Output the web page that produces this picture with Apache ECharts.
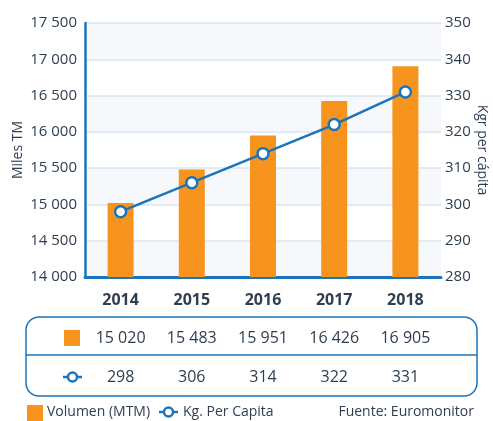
<!DOCTYPE html>
<html>
<head>
<meta charset="utf-8">
<script src="https://cdn.jsdelivr.net/npm/echarts@6/dist/echarts.min.js"></script>
<style>
  html, body { margin: 0; padding: 0; background: #fff; }
  #chart { width: 493px; height: 421px; }
</style>
</head>
<body>
<div id="chart"></div>
<script>
const years = ["2014", "2015", "2016", "2017", "2018"];
const volumen = [15020, 15483, 15951, 16426, 16905];
const perCapita = [298, 306, 314, 322, 331];
const volumenLabels = ["15 020", "15 483", "15 951", "16 426", "16 905"];
const perCapitaLabels = ["298", "306", "314", "322", "331"];

const FONT = "Open Sans";
const TEXT = "#2f3e50";
const BLUE = "#1b74bb";
const ORANGE = "#f7941d";

const fmtSpace = (v) => String(v).replace(/\B(?=(\d{3})+(?!\d))/g, " ");

const chart = echarts.init(document.getElementById("chart"));

chart.setOption({
  animation: false,
  textStyle: { fontFamily: FONT, color: TEXT },
  grid: { left: 85, right: 52, top: 23, bottom: 144, containLabel: false, outerBoundsMode: "none" },
  xAxis: {
    type: "category",
    data: years,
    axisLine: { lineStyle: { color: BLUE, width: 3 } },
    axisTick: { show: false },
    axisLabel: { fontFamily: FONT, fontSize: 16, fontWeight: "bold", color: TEXT, margin: 15 },
  },
  yAxis: [
    {
      type: "value",
      min: 14000,
      max: 17500,
      interval: 500,
      name: "Miles TM",
      nameLocation: "middle",
      nameGap: 60,
      nameMoveOverlap: false,
      nameTextStyle: { fontFamily: FONT, fontSize: 14, color: TEXT },
      axisLine: { show: true, lineStyle: { color: BLUE, width: 2.5 } },
      axisTick: { show: false },
      axisLabel: { fontFamily: FONT, fontSize: 15, color: TEXT, margin: 8, formatter: fmtSpace },
      splitLine: { lineStyle: { color: "#d7e6f3", width: 1.5 } },
      splitArea: { show: true, areaStyle: { color: ["#f6f8fb", "#ffffff"] } },
    },
    {
      type: "value",
      min: 280,
      max: 350,
      interval: 10,
      name: "Kgr per cápita",
      nameLocation: "middle",
      nameRotate: -90,
      nameGap: 34,
      nameMoveOverlap: false,
      nameTextStyle: { fontFamily: FONT, fontSize: 14, color: TEXT },
      axisLine: { show: false },
      axisTick: { show: false },
      axisLabel: { fontFamily: FONT, fontSize: 15, color: TEXT, margin: 4 },
      splitLine: { show: false },
    },
  ],
  series: [
    {
      name: "Volumen (MTM)",
      type: "bar",
      data: volumen,
      barWidth: 26,
      itemStyle: { color: ORANGE },
    },
    {
      name: "Kg. Per Capita",
      type: "line",
      yAxisIndex: 1,
      data: perCapita,
      symbol: "circle",
      symbolSize: 11,
      lineStyle: { color: BLUE, width: 2.5 },
      itemStyle: { color: "#ffffff", borderColor: BLUE, borderWidth: 2.5 },
    },
  ],
});

const txt = (x, y, text, size, align) => ({
  type: "text",
  style: {
    x, y, text, align: align || "center", verticalAlign: "middle",
    font: size + "px '" + FONT + "'", fill: TEXT,
  },
});

const lineMarker = (x1, x2, y) => [
  { type: "line", shape: { x1, y1: y, x2, y2: y }, style: { stroke: BLUE, lineWidth: 2.5 } },
  { type: "circle", shape: { cx: (x1 + x2) / 2, cy: y, r: 4.5 }, style: { fill: "#fff", stroke: BLUE, lineWidth: 2.5 } },
];

// table + legend under the chart, table columns follow the category axis
function buildTable() {
  const box = { x: 26, y: 317, w: 451, h: 79 };
  const midY = 355;
  const row1Y = 338;
  const row2Y = 377;
  const els = [
    {
      type: "rect",
      shape: { x: box.x, y: box.y, width: box.w, height: box.h, r: 13 },
      style: { fill: "none", stroke: BLUE, lineWidth: 1.5 },
    },
    {
      type: "line",
      shape: { x1: box.x, y1: midY, x2: box.x + box.w, y2: midY },
      style: { stroke: BLUE, lineWidth: 1.5 },
    },
    { type: "rect", shape: { x: 64, y: 330, width: 16, height: 16 }, style: { fill: ORANGE } },
    ...lineMarker(63, 82, row2Y),
    // legend
    { type: "rect", shape: { x: 27, y: 405, width: 16, height: 16 }, style: { fill: ORANGE } },
    txt(47, 412, "Volumen (MTM)", 14, "left"),
    ...lineMarker(159, 178, 412),
    txt(183, 412, "Kg. Per Capita", 14, "left"),
    txt(474, 412, "Fuente: Euromonitor", 14, "right"),
  ];
  years.forEach((yr, i) => {
    const cx = chart.convertToPixel({ xAxisIndex: 0 }, yr);
    els.push(txt(cx, row1Y, volumenLabels[i], 16));
    els.push(txt(cx, row2Y, perCapitaLabels[i], 16));
  });
  return els;
}

chart.setOption({ graphic: buildTable() });
</script>
</body>
</html>
